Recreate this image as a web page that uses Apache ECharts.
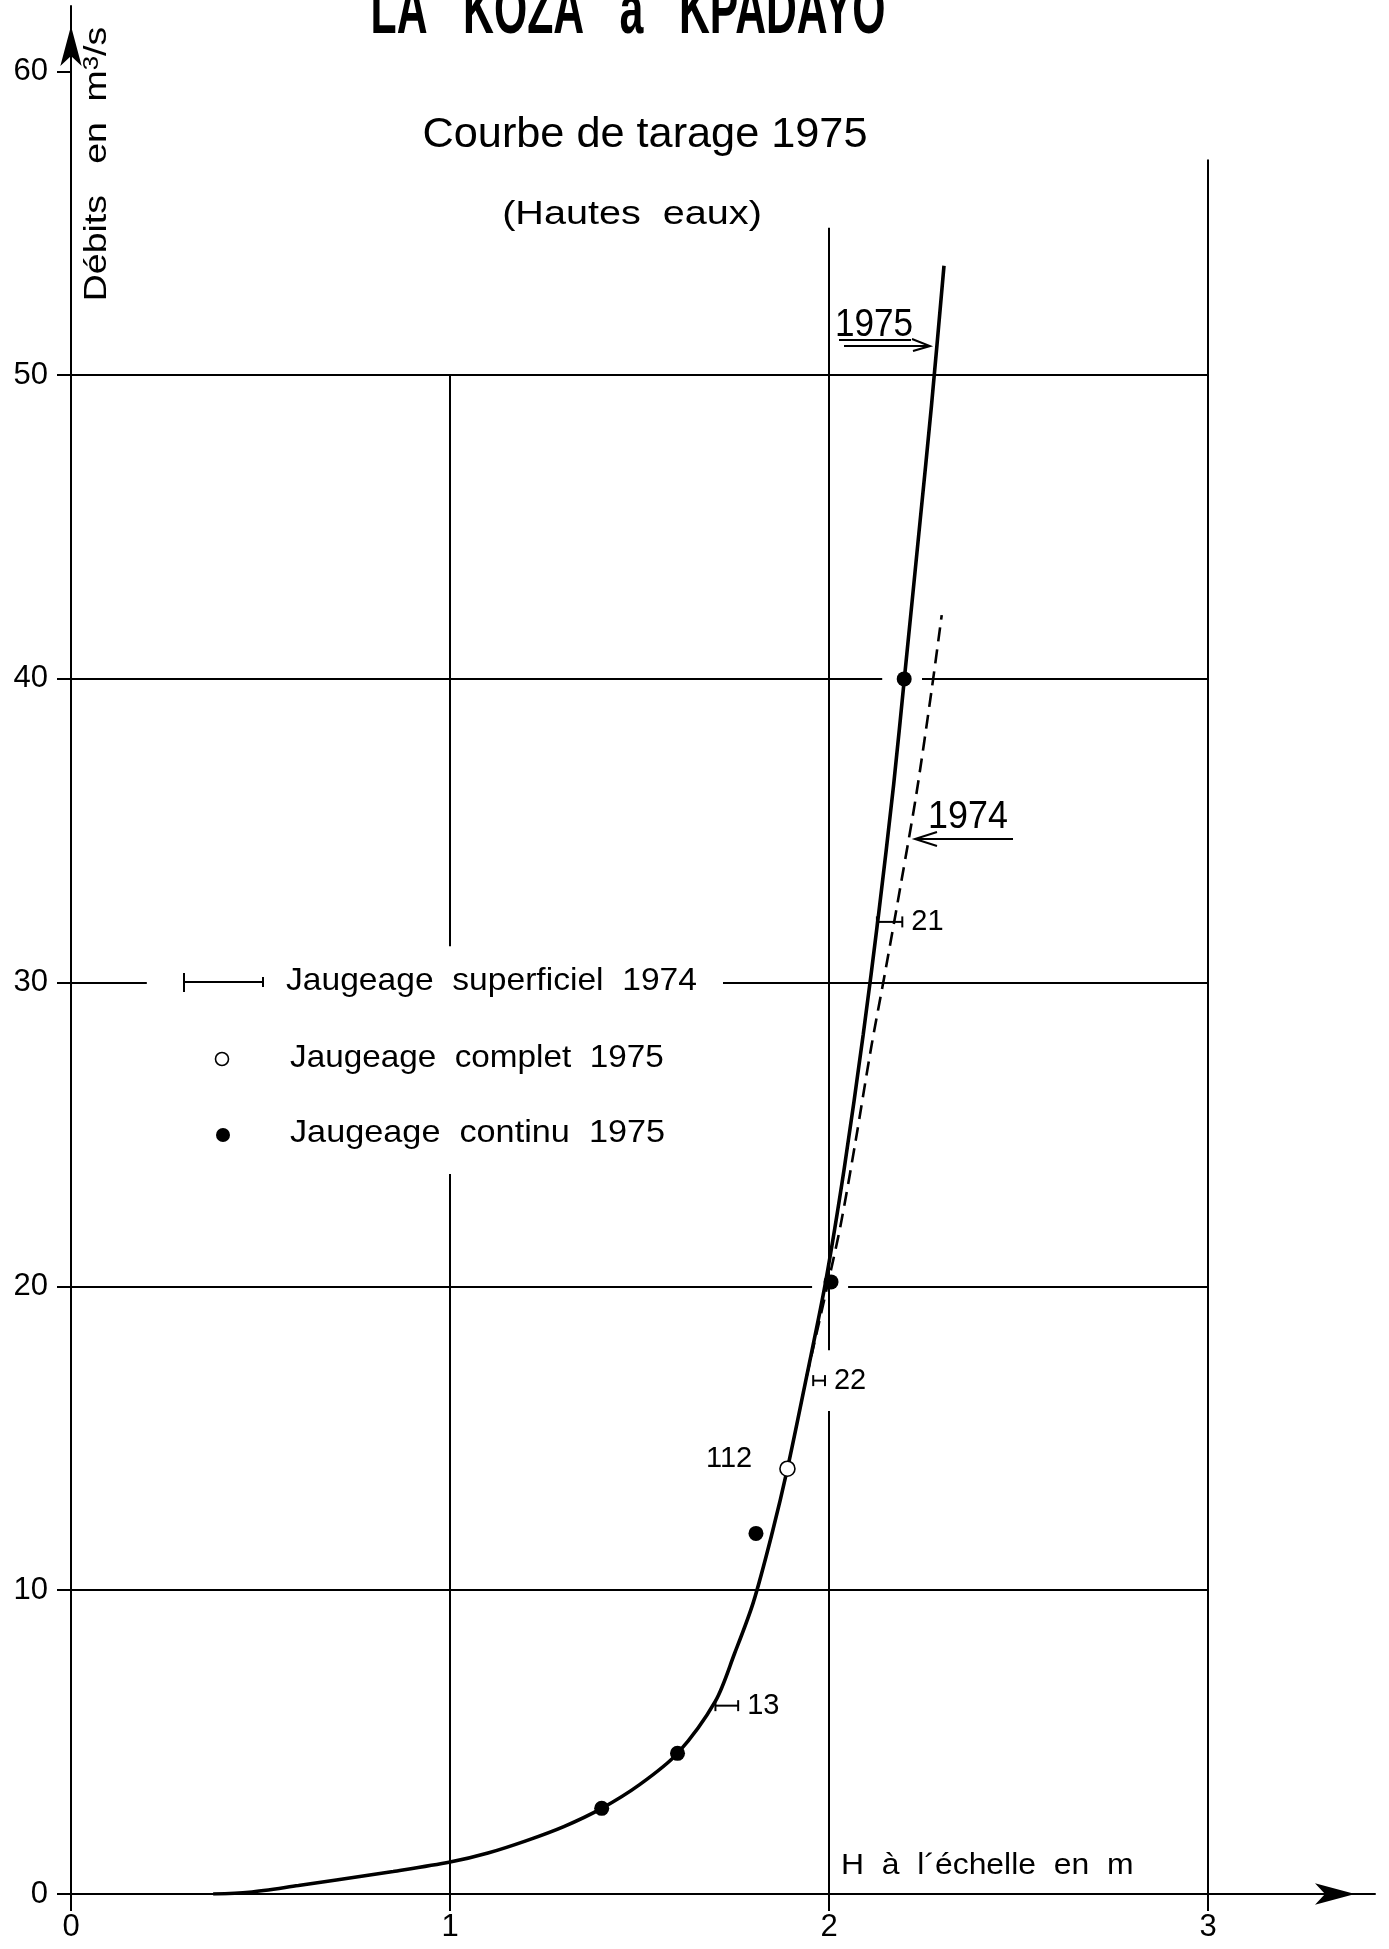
<!DOCTYPE html>
<html>
<head>
<meta charset="utf-8">
<title>LA KOZA à KPADAYO — Courbe de tarage 1975</title>
<script src="https://cdn.jsdelivr.net/npm/echarts@6/dist/echarts.min.js"></script>
<style>
  html, body { margin: 0; padding: 0; background: #fff; }
  #chart { width: 1389px; height: 1949px; }
</style>
</head>
<body>
<div id="chart"></div>
<script>
// Axis ticks
const heightTicks = [0, 1, 2, 3];                    // H à l'échelle (m)
const dischargeTicks = [0, 10, 20, 30, 40, 50, 60];  // Débits (m3/s)

// Rating curve 1975 [H, Q]
const curve1975 = [
  [0.375, 0], [0.47, 0.06], [0.60, 0.28], [0.70, 0.46], [0.85, 0.74],
  [1.00, 1.05], [1.10, 1.35], [1.20, 1.75], [1.30, 2.22], [1.40, 2.82],
  [1.50, 3.6], [1.60, 4.63], [1.70, 6.35], [1.75, 7.9], [1.80, 9.6],
  [1.85, 11.9], [1.89, 14.0], [1.94, 17.0], [1.99, 20.1], [2.04, 23.9],
  [2.09, 28.3], [2.13, 32.2], [2.17, 36.5], [2.20, 40.2], [2.24, 45.2],
  [2.27, 49.0], [2.303, 53.6]
];

// Rating curve 1974 (upper branch) [H, Q]
const curve1974 = [
  [1.94, 17.0], [1.995, 20.0], [2.03, 22.0], [2.07, 24.8], [2.11, 27.8],
  [2.15, 30.5], [2.19, 33.3], [2.23, 36.2], [2.27, 39.6], [2.297, 42.1]
];

// Jaugeage continu 1975 [H, Q]
const continuous1975 = [[1.40, 2.82], [1.60, 4.63], [1.807, 11.87], [2.005, 20.15], [2.198, 40.0]];

// Jaugeage complet 1975 [H, Q, n°]
const complete1975 = [[1.89, 14.0, '112']];

// Jaugeage superficiel 1974 [Hmin, Hmax, Q, n°]
const surface1974 = [[1.70, 1.76, 6.2, '13'], [1.958, 1.989, 16.9, '22'], [2.126, 2.193, 32.0, '21']];

// Grid rulings: horizontal [Q, Hfrom, Hto], vertical [H, Qfrom, Qto]
const rulingsQ = [[10, 0, 3], [20, 0, 1.955], [20, 2.05, 3], [30, 0, 0.20], [30, 1.72, 3],
                  [40, 0, 2.14], [40, 2.245, 3], [50, 0, 3]];
const rulingsH = [[1, 0, 23.7], [1, 31.2, 50], [2, 0, 15.9], [2, 17.9, 54.85], [3, 0, 57.1]];

const FONT = '"Liberation Sans", Arial, sans-serif';
const INK = '#000';

const rulingLines = rulingsQ.map(([q, a, b]) => ({ coords: [[a, q], [b, q]] }))
  .concat(rulingsH.map(([h, a, b]) => ({ coords: [[h, a], [h, b]] })));

function txt(text, x, y, size, opts) {
  opts = opts || {};
  return {
    type: 'text', x: x, y: y, scaleX: opts.scaleX || 1, rotation: opts.rotation || 0, z: 50,
    style: {
      text: text, fontSize: size, fontFamily: opts.family || FONT, fontWeight: opts.weight || 'normal',
      fill: INK, align: opts.align || 'center', verticalAlign: 'middle', rich: opts.rich
    }
  };
}
function seg(x1, y1, x2, y2, w) {
  return { type: 'line', z: 50, shape: { x1: x1, y1: y1, x2: x2, y2: y2 }, style: { stroke: INK, lineWidth: w || 2 } };
}
function chevron(points) {
  return { type: 'polyline', z: 50, shape: { points: points }, style: { stroke: INK, lineWidth: 2, fill: null } };
}

const chart = echarts.init(document.getElementById('chart'), null, { renderer: 'canvas' });

chart.setOption({
  animation: false,
  backgroundColor: '#fff',
  grid: { left: 71, top: 6, right: 14, bottom: 55, containLabel: false },
  xAxis: {
    type: 'value', min: 0, max: 3.44, interval: 1,
    axisLine: {
      show: true, onZero: false,
      lineStyle: { color: INK, width: 2 },
      symbol: ['none', 'arrow'], symbolSize: [16, 40], symbolOffset: [0, -20]
    },
    axisTick: { show: true, length: 17, lineStyle: { color: INK, width: 2 }, customValues: heightTicks },
    axisLabel: { customValues: heightTicks, margin: 18, color: INK, fontSize: 31, fontFamily: FONT },
    splitLine: { show: false }
  },
  yAxis: {
    type: 'value', min: 0, max: 62.15, interval: 10,
    axisLine: {
      show: true, onZero: false,
      lineStyle: { color: INK, width: 2 },
      symbol: ['none', 'arrow'], symbolSize: [16, 40], symbolOffset: [0, -20]
    },
    axisTick: { show: true, length: 14, lineStyle: { color: INK, width: 2 }, customValues: dischargeTicks },
    axisLabel: { customValues: dischargeTicks, margin: 23, color: INK, fontSize: 31, fontFamily: FONT },
    splitLine: { show: false }
  },
  series: [
    {
      name: 'rulings', type: 'lines', coordinateSystem: 'cartesian2d', silent: true, z: 1,
      data: rulingLines,
      lineStyle: { color: INK, width: 2, opacity: 1, curveness: 0 }
    },
    {
      name: '1974', type: 'line', data: curve1974, z: 3, silent: true,
      smooth: 0.3, showSymbol: false,
      lineStyle: { color: INK, width: 2.6, type: [14, 8], opacity: 1 }
    },
    {
      name: '1975', type: 'line', data: curve1975, z: 4, silent: true,
      smooth: 0.3, showSymbol: false,
      lineStyle: { color: INK, width: 3.6, opacity: 1 }
    },
    {
      name: 'Jaugeage superficiel 1974', type: 'custom', z: 5, silent: true,
      data: surface1974,
      encode: { x: [0, 1], y: 2 },
      renderItem: function (params, api) {
        const a = api.coord([api.value(0), api.value(2)]);
        const b = api.coord([api.value(1), api.value(2)]);
        const cap = 5.5;
        const style = { stroke: INK, lineWidth: 2 };
        return {
          type: 'group',
          children: [
            { type: 'line', shape: { x1: a[0], y1: a[1], x2: b[0], y2: b[1] }, style: style },
            { type: 'line', shape: { x1: a[0], y1: a[1] - cap, x2: a[0], y2: a[1] + cap }, style: style },
            { type: 'line', shape: { x1: b[0], y1: b[1] - cap, x2: b[0], y2: b[1] + cap }, style: style },
            {
              type: 'text',
              style: {
                text: surface1974[params.dataIndex][3], x: b[0] + 9, y: b[1],
                fontSize: 29, fontFamily: FONT, fill: INK, align: 'left', verticalAlign: 'middle'
              }
            }
          ]
        };
      }
    },
    {
      name: 'Jaugeage complet 1975', type: 'scatter', z: 6, silent: true,
      data: complete1975, symbol: 'circle', symbolSize: 15,
      itemStyle: { color: '#fff', borderColor: INK, borderWidth: 1.6, opacity: 1 },
      label: {
        show: true, position: 'left', distance: 27, offset: [0, -10],
        formatter: function (p) { return p.data[2]; },
        color: INK, fontSize: 29, fontFamily: FONT
      }
    },
    {
      name: 'Jaugeage continu 1975', type: 'scatter', z: 6, silent: true,
      data: continuous1975, symbol: 'circle', symbolSize: 15,
      itemStyle: { color: INK, opacity: 1 }
    }
  ],
  graphic: [
    // titles
    txt('LA   KOZA   à   KPADAYO', 628, 14, 70, { weight: 'bold', scaleX: 0.61 }),
    txt('Courbe de tarage 1975', 645, 135, 42, { scaleX: 1.03 }),
    txt('(Hautes  eaux)', 632, 215, 33, { scaleX: 1.2 }),
    // axis names
    txt('Débits   en  m{sup|3}/s', 97, 164, 32, {
      rotation: Math.PI / 2, scaleX: 1.17,
      rich: { sup: { fontSize: 22, fontFamily: FONT, fill: INK, verticalAlign: 'top' } }
    }),
    txt('H  à  l\u00b4échelle  en  m', 841, 1866, 29, { align: 'left', scaleX: 1.1 }),
    // legend
    seg(184, 982, 263, 982, 2), seg(184, 973, 184, 992, 2), seg(263, 977, 263, 987, 2),
    txt('Jaugeage  superficiel  1974', 286, 981, 32, { align: 'left', scaleX: 1.05 }),
    { type: 'circle', z: 50, shape: { cx: 222, cy: 1059, r: 6.5 }, style: { fill: '#fff', stroke: INK, lineWidth: 1.6 } },
    txt('Jaugeage  complet  1975', 290, 1058, 32, { align: 'left', scaleX: 1.04 }),
    { type: 'circle', z: 50, shape: { cx: 223, cy: 1135, r: 7 }, style: { fill: INK } },
    txt('Jaugeage  continu  1975', 290, 1133, 32, { align: 'left', scaleX: 1.07 }),
    // curve tags
    txt('1975', 874, 325, 39, { scaleX: 0.9 }),
    seg(839, 340, 911, 340, 2),
    seg(844, 346, 930, 346, 2),
    chevron([[912, 339], [930, 346], [913, 351]]),
    txt('1974', 968, 817, 39, { scaleX: 0.92 }),
    seg(915, 839, 1013, 839, 2),
    chevron([[937, 832], [915, 839], [937, 846]])
  ]
});
</script>
</body>
</html>
